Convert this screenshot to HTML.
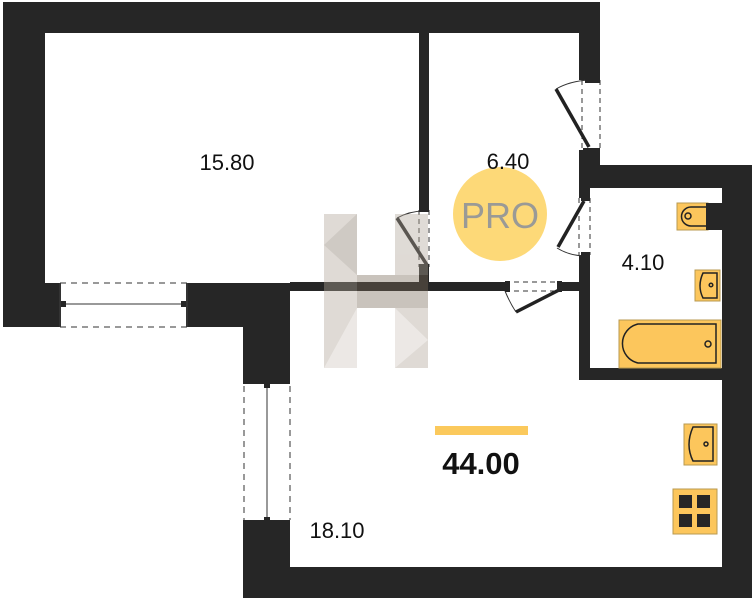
<!DOCTYPE html>
<html><head><meta charset="utf-8"><style>
html,body{margin:0;padding:0;background:#fff;}
svg{display:block}
text{font-family:"Liberation Sans","DejaVu Sans",sans-serif;}
</style></head><body>
<svg width="754" height="600" viewBox="0 0 754 600" xmlns="http://www.w3.org/2000/svg">
<g fill="#262626">
<rect x="3" y="2" width="597" height="31"/>
<rect x="3" y="2" width="42" height="325"/>
<rect x="3" y="283" width="57" height="44"/>
<rect x="187" y="283" width="103" height="44"/>
<rect x="243" y="283" width="47" height="100"/>
<rect x="243" y="522" width="47" height="76"/>
<rect x="243" y="567" width="509" height="31"/>
<rect x="722" y="165" width="30" height="433"/>
<rect x="579" y="165" width="173" height="23"/>
<rect x="579" y="2" width="21" height="78"/>
<rect x="579" y="150" width="21" height="38"/>
<rect x="579" y="188" width="11" height="10"/>
<rect x="579" y="255" width="11" height="125"/>
<rect x="579" y="368" width="143" height="12"/>
<rect x="419" y="33" width="10" height="177"/>
<rect x="419" y="267" width="10" height="24"/>
<rect x="290" y="282" width="215" height="9"/>
<rect x="562" y="282" width="17" height="9"/>
</g>
<g stroke="#333" fill="none" stroke-width="1">
<line x1="60" y1="283" x2="187" y2="283" stroke-dasharray="6,5"/>
<line x1="60" y1="327" x2="187" y2="327" stroke-dasharray="6,5"/>
<line x1="63" y1="304" x2="184" y2="304"/>
<line x1="60" y1="283" x2="60" y2="327" stroke-width="2"/>
<line x1="187" y1="283" x2="187" y2="327" stroke-width="2"/>
<line x1="244" y1="386" x2="244" y2="520" stroke-dasharray="6,5"/>
<line x1="290" y1="386" x2="290" y2="520" stroke-dasharray="6,5"/>
<line x1="267" y1="386" x2="267" y2="520"/>
</g>
<g fill="#262626">
<rect x="61" y="301" width="5" height="6"/><rect x="181" y="301" width="5" height="6"/>
<rect x="264" y="383" width="6" height="5"/><rect x="264" y="517" width="6" height="5"/>
<rect x="243" y="381" width="47" height="3"/><rect x="243" y="520" width="47" height="3"/>
</g>
<g stroke="#333" fill="none" stroke-width="1">
<line x1="582" y1="80" x2="582" y2="150" stroke-dasharray="5,4"/>
<line x1="600" y1="80" x2="600" y2="150" stroke-dasharray="5,4"/>
<path d="M556 89 Q570 81 589 80"/>
<line x1="579" y1="198" x2="579" y2="255" stroke-dasharray="5,4"/>
<line x1="590" y1="198" x2="590" y2="255" stroke-dasharray="5,4"/>
<path d="M557 248 Q570 256 586 256"/>
<line x1="419" y1="210" x2="419" y2="267" stroke-dasharray="5,4"/>
<line x1="429" y1="210" x2="429" y2="267" stroke-dasharray="5,4"/>
<path d="M397 218 Q410 211 424 211"/>
<line x1="505" y1="282" x2="562" y2="282" stroke-dasharray="5,4"/>
<line x1="505" y1="291" x2="562" y2="291" stroke-dasharray="5,4"/>
<path d="M505 291 Q510 303 516 312"/>
</g>
<g stroke="#222" stroke-width="3.5" fill="none">
<line x1="556" y1="89" x2="589" y2="147"/>
<line x1="558" y1="247" x2="584" y2="201"/>
<line x1="397" y1="218" x2="427" y2="265"/>
<line x1="516" y1="312" x2="561" y2="289"/>
</g>
<g fill="#262626">
<rect x="585" y="78" width="15" height="5"/><rect x="583" y="148" width="17" height="5"/>
<rect x="581" y="196" width="9" height="5"/><rect x="581" y="252" width="9" height="5"/>
<rect x="419" y="207" width="10" height="5"/><rect x="419" y="264" width="10" height="5"/>
<rect x="505" y="281" width="5" height="11"/><rect x="557" y="281" width="5" height="11"/>
</g>
<g opacity="0.4">
<rect x="324" y="214" width="33" height="154" fill="#b0a598"/>
<rect x="395" y="214" width="33" height="154" fill="#b0a598"/>
<rect x="357" y="275" width="71" height="33" fill="#7a6a5a"/>
<polygon points="324,245 357,214 357,275" fill="#8a7c6e"/>
<polygon points="324,368 357,308 357,368" fill="#d0c8c0"/>
<polygon points="395,308 428,340 395,368" fill="#d0c8c0"/>
</g>
<circle cx="500" cy="214" r="47" fill="#fdd978"/>
<text x="500" y="228" font-size="36" fill="#9a9a96" text-anchor="middle">PRO</text>
<g font-size="22" fill="#111">
<text x="227" y="170" text-anchor="middle">15.80</text>
<text x="508" y="169" text-anchor="middle">6.40</text>
<text x="643" y="270" text-anchor="middle">4.10</text>
<text x="337" y="538" text-anchor="middle">18.10</text>
</g>
<rect x="435" y="426" width="93" height="9" fill="#fbc95c"/>
<text x="481" y="474" font-size="31" font-weight="bold" text-anchor="middle" fill="#111">44.00</text>
<g fill="#fcc65c" stroke="#b89a50" stroke-width="1">
<rect x="677" y="203" width="31" height="27"/>
<rect x="695" y="270" width="25" height="31"/>
<rect x="619" y="320" width="102" height="48"/>
<rect x="684" y="424" width="33" height="41"/>
<rect x="673" y="489" width="44" height="45"/>
</g>
<rect x="706" y="203" width="16" height="27" fill="#262626"/>
<g fill="none" stroke="#222" stroke-width="1.5">
<path d="M706 207 H691 A9 9 0 0 0 691 226 H706"/>
<circle cx="688" cy="216" r="3"/>
<path d="M717 273 H703 Q697 286 703 298 H717 Z"/>
<circle cx="711" cy="285" r="1.8"/>
<path d="M716 324 H638 A20 20 0 0 0 638 363 H716 Z"/>
<circle cx="708" cy="344" r="3"/>
<path d="M713 427 H693 Q685 445 693 461 H713 Z"/>
<circle cx="706" cy="444" r="2"/>
</g>
<g fill="#262626">
<rect x="679" y="495" width="13" height="13"/><rect x="697" y="495" width="13" height="13"/>
<rect x="679" y="514" width="13" height="13"/><rect x="697" y="514" width="13" height="13"/>
</g>
</svg>
</body></html>
